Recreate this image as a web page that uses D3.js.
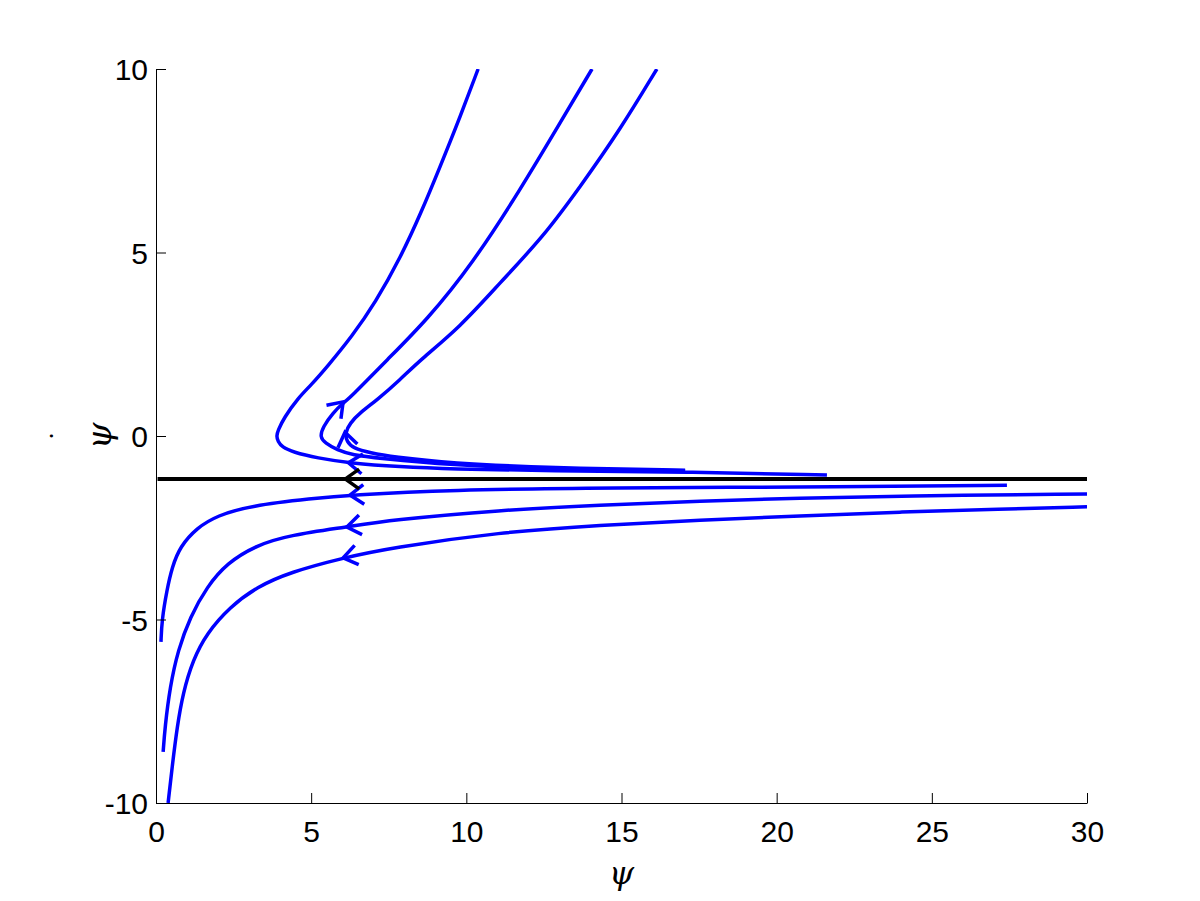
<!DOCTYPE html>
<html>
<head>
<meta charset="utf-8">
<script src="https://cdn.jsdelivr.net/npm/d3@7"></script>
<style>
  html, body { margin: 0; padding: 0; background: #fff; }
  svg { display: block; }
</style>
</head>
<body>
<div id="chart"></div>
<script>
// trajectories, [psi, psiDot]
const curveA = [[10.38,10.0],[9.76,8.61],[9.15,7.33],[8.54,6.08],[7.89,4.88],[7.06,3.62],[6.32,2.72],[5.51,1.88],[5.00,1.39],
  [4.58,1.04],[4.12,0.49],[3.93,0.15],[3.88,0],[3.93,-0.15],[4.06,-0.30],[4.41,-0.44],[5.19,-0.60],[6.25,-0.74],
  [7.86,-0.84],[9.47,-0.90],[12.70,-0.95],[17.05,-0.98],[21.62,-1.06]];
const curveB = [[14.05,10.0],[13.02,8.53],[11.73,6.70],[10.21,4.71],[8.73,3.16],[7.44,2.07],[6.25,1.04],[6.03,0.90],[5.70,0.63],
  [5.38,0.25],[5.28,-0.03],[5.45,-0.19],[5.83,-0.38],[6.35,-0.52],[7.12,-0.60],[9.47,-0.79],[12.70,-0.90],[17.05,-0.95]];
const curveC = [[16.14,10.0],[14.95,8.34],[13.66,6.78],[12.47,5.42],[11.08,4.17],[9.80,2.97],[8.51,2.07],[7.86,1.53],[7.12,0.98],
  [6.57,0.63],[6.25,0.35],[6.09,0.08],[6.15,-0.16],[6.35,-0.33],[6.90,-0.46],[7.64,-0.57],[9.47,-0.74],[12.70,-0.87],[17.05,-0.93]];
const curveL1 = [[27.42,-1.34],[22.36,-1.39],[14.31,-1.41],[9.47,-1.47],[6.25,-1.61],[5.06,-1.70],[3.03,-1.90],[1.97,-2.17],
  [1.32,-2.50],[0.77,-3.02],[0.52,-3.57],[0.35,-4.20],[0.19,-5.01],[0.16,-5.61]];
const curveL2 = [[30,-1.58],[23.97,-1.63],[20.75,-1.69],[17.53,-1.77],[14.31,-1.88],[11.08,-2.02],[7.54,-2.29],[6.15,-2.48],
  [4.32,-2.70],[3.25,-2.97],[2.29,-3.46],[1.64,-4.11],[1.10,-4.93],[0.71,-5.83],[0.45,-6.84],[0.29,-7.93],[0.23,-8.61]];
const curveL3 = [[30,-1.93],[27.20,-1.99],[23.97,-2.07],[20.75,-2.18],[17.53,-2.29],[14.31,-2.43],[11.08,-2.62],[7.54,-3.05],
  [6.03,-3.32],[4.32,-3.71],[3.25,-4.11],[2.38,-4.66],[1.64,-5.37],[1.19,-6.10],[0.87,-7.00],[0.68,-7.93],[0.52,-9.02],[0.39,-10]];
const separatrix = [[0.05,-1.17],[30,-1.17]];

// arrow heads: tip and a point behind it on the curve
const blueArrows = [
  { tip: [6.20,-0.73], from: [7.86,-0.84] },
  { tip: [6.03,0.93], from: [5.70,0.63] },
  { tip: [6.09,0.10], from: [6.15,-0.16] },
  { tip: [6.25,-1.61], from: [9.47,-1.47] },
  { tip: [6.15,-2.48], from: [7.54,-2.29] },
  { tip: [6.03,-3.32], from: [7.54,-3.05] }
];
const blackArrows = [{ tip: [6.10,-1.17], from: [8.0,-1.17] }];

const xTicks = [0,5,10,15,20,25,30];
const yTicks = [-10,-5,0,5,10];

const width = 1200, height = 901;
const margin = { left: 156, right: 113, top: 69, bottom: 98 };

const svg = d3.select('#chart').append('svg')
  .attr('width', width)
  .attr('height', height);

const x = d3.scaleLinear().domain([0,30]).range([margin.left, width - margin.right]);
const y = d3.scaleLinear().domain([-10,10]).range([height - margin.bottom, margin.top]);

svg.append('defs').append('clipPath').attr('id', 'plot')
  .append('rect')
  .attr('x', margin.left).attr('y', margin.top)
  .attr('width', x(30) - x(0)).attr('height', y(-10) - y(10));

const line = d3.line()
  .x(d => x(d[0]))
  .y(d => y(d[1]))
  .curve(d3.curveBasis);

const plot = svg.append('g').attr('clip-path', 'url(#plot)');

plot.append('path')
  .attr('d', d3.line().x(d => x(d[0])).y(d => y(d[1]))(separatrix))
  .attr('fill', 'none')
  .attr('stroke', '#000')
  .attr('stroke-width', 4);

[curveA, curveB, curveC, curveL1, curveL2, curveL3].forEach(c => {
  plot.append('path')
    .attr('d', line(c))
    .attr('fill', 'none')
    .attr('stroke', '#0000ff')
    .attr('stroke-width', 3.5)
    .attr('stroke-linejoin', 'round');
});

function drawArrows(list, color) {
  list.forEach(a => {
    const tx = x(a.tip[0]), ty = y(a.tip[1]);
    const ang = Math.atan2(ty - y(a.from[1]), tx - x(a.from[0]));
    const len = 17, spread = 0.62;
    const p1 = [tx - len * Math.cos(ang - spread), ty - len * Math.sin(ang - spread)];
    const p2 = [tx - len * Math.cos(ang + spread), ty - len * Math.sin(ang + spread)];
    plot.append('path')
      .attr('d', `M${p1[0]},${p1[1]}L${tx},${ty}L${p2[0]},${p2[1]}`)
      .attr('fill', 'none')
      .attr('stroke', color)
      .attr('stroke-width', 3.5);
  });
}
drawArrows(blueArrows, '#0000ff');
drawArrows(blackArrows, '#000');

// axes, MATLAB style: ticks inward, box off
const font = '"Liberation Sans", Arial, Helvetica, sans-serif';

const xAxis = svg.append('g')
  .attr('transform', `translate(0,${y(-10)})`)
  .call(d3.axisBottom(x).tickValues(xTicks).tickFormat(d => String(d))
    .tickSize(-10).tickPadding(18).tickSizeOuter(0));
const yAxis = svg.append('g')
  .attr('transform', `translate(${x(0)},0)`)
  .call(d3.axisLeft(y).tickValues(yTicks).tickFormat(d => String(d))
    .tickSize(-10).tickPadding(8).tickSizeOuter(0));

[xAxis, yAxis].forEach(g => {
  g.select('.domain').attr('stroke', '#000').attr('stroke-width', 1);
  g.selectAll('.tick line').attr('stroke', '#000').attr('stroke-width', 1);
  g.selectAll('.tick text')
    .attr('fill', '#000')
    .style('font-family', font)
    .style('font-size', '30px');
});
xAxis.selectAll('.tick text').attr('dy', '0.71em');
yAxis.selectAll('.tick text').attr('dy', '0.36em');

// axis labels
svg.append('text')
  .attr('x', (x(0) + x(30)) / 2)
  .attr('y', 884)
  .attr('text-anchor', 'middle')
  .style('font-family', '"DejaVu Serif", "Liberation Serif", serif')
  .style('font-style', 'italic')
  .style('font-size', '32px')
  .text('ψ');

const yl = svg.append('g')
  .attr('transform', `translate(100,${y(0)}) rotate(-90)`);
yl.append('text')
  .attr('x', 0).attr('y', 11)
  .attr('text-anchor', 'middle')
  .style('font-family', '"DejaVu Serif", "Liberation Serif", serif')
  .style('font-style', 'italic')
  .style('font-size', '34px')
  .text('ψ');
yl.append('text')
  .attr('x', 0).attr('y', -47)
  .attr('text-anchor', 'middle')
  .style('font-family', '"DejaVu Serif", "Liberation Serif", serif')
  .style('font-size', '24px')
  .text('.');
</script>
</body>
</html>
